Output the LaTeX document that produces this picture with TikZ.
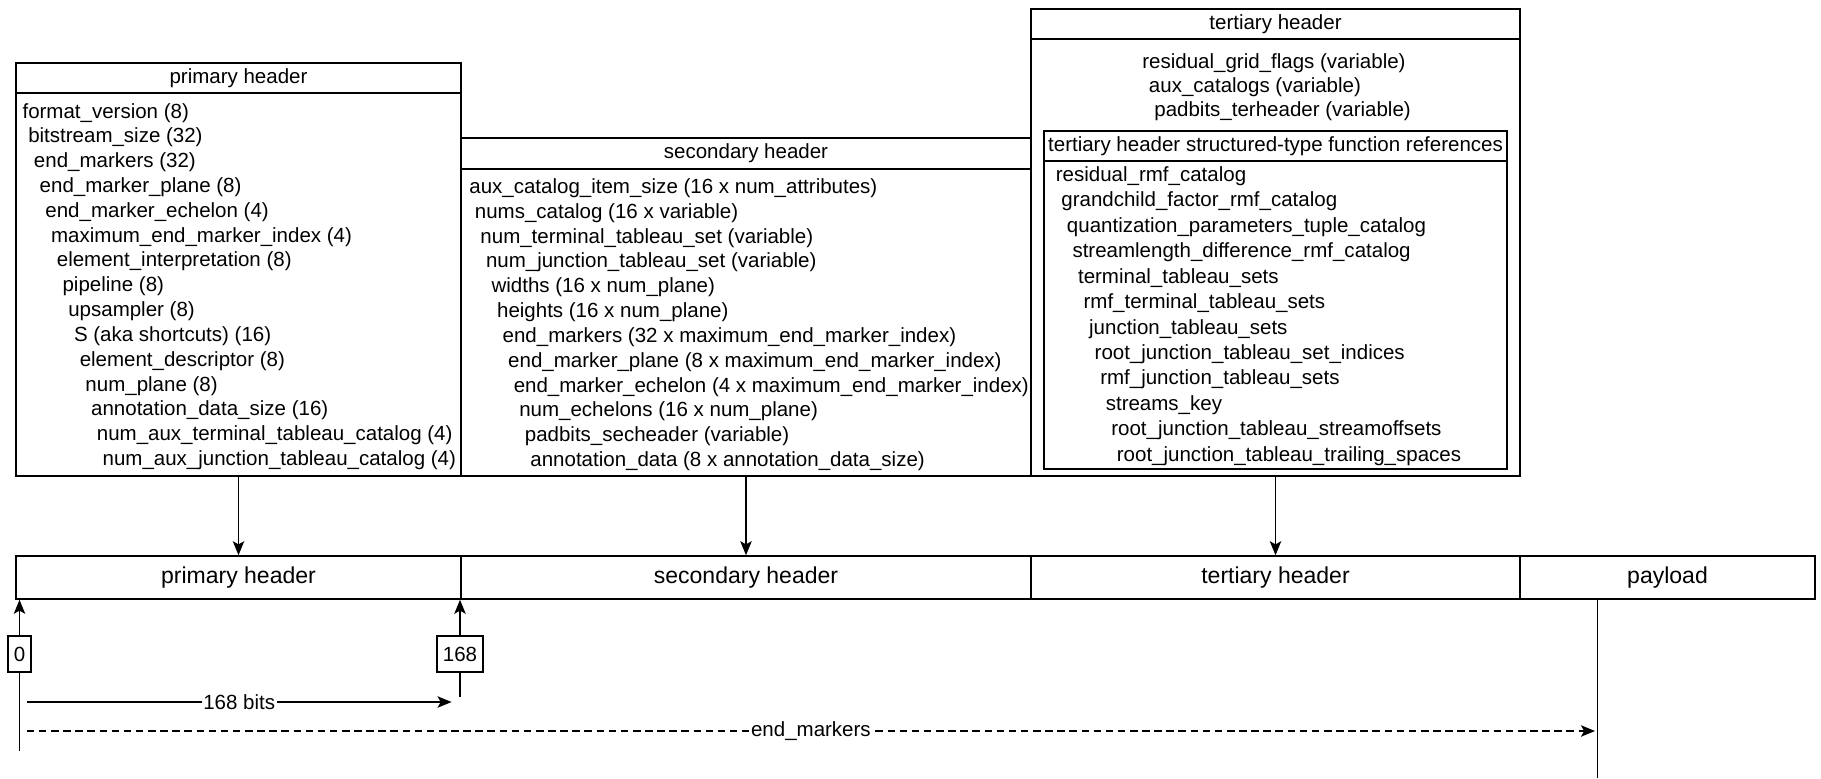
\documentclass[tikz,border=0pt]{standalone}
\usepackage{fontspec}
\setmainfont{Liberation Sans}
\usetikzlibrary{arrows.meta,positioning}

\tikzset{
  box/.style={draw, line width=0.85pt, inner sep=0pt},
  seg/.style={draw, line width=0.85pt, inner sep=0pt, minimum height=0.86cm, font=\fontsize{13.1}{15.7}\selectfont},
  fld/.style={anchor=base west, inner sep=0pt},
  off/.style={draw, fill=white, line width=0.85pt, inner xsep=3.4pt, inner ysep=0pt, minimum height=20.5pt},
  arr/.style={-{Stealth[length=8pt,width=6.5pt,inset=1.8pt]}, line width=0.85pt}
}

\begin{document}
\begin{tikzpicture}[x=0.02cm, y=-0.02cm, every node/.style={font=\fontsize{11.67}{14}\selectfont}]
      \useasboundingbox (0,0) rectangle (1821,778);

      % header boxes
      \node[box, minimum width=8.9cm, minimum height=0.6cm] (ptitle) at (238.5,78) {primary header};
      \node[box, minimum width=8.9cm, minimum height=7.66cm] (pbody) at (238.5,284.5) {};
      \node[box, minimum width=11.4cm, minimum height=0.62cm] (stitle) at (746,153.5) {secondary header};
      \node[box, minimum width=11.4cm, minimum height=6.14cm] (sbody) at (746,322.5) {};
      \node[box, minimum width=9.78cm, minimum height=0.6cm] (ttitle) at (1275.5,24) {tertiary header};
      \node[box, minimum width=9.78cm, minimum height=8.74cm] (tbody) at (1275.5,257.5) {};
      \node[box, minimum width=9.26cm, minimum height=0.6cm] (ftitle) at (1275.5,146) {tertiary header structured-type function references};
      \node[box, minimum width=9.26cm, minimum height=6.16cm] (fbody) at (1275.5,315) {};

      \foreach \t [count=\i from 0] in {{format\_version (8)}, {bitstream\_size (32)}, {end\_markers (32)},
          {end\_marker\_plane (8)}, {end\_marker\_echelon (4)}, {maximum\_end\_marker\_index (4)},
          {element\_interpretation (8)}, {pipeline (8)}, {upsampler (8)}, {S (aka shortcuts) (16)},
          {element\_descriptor (8)}, {num\_plane (8)}, {annotation\_data\_size (16)},
          {num\_aux\_terminal\_tableau\_catalog (4)}, {num\_aux\_junction\_tableau\_catalog (4)}}
        \node[fld] (p\i) at (22.2+5.72*\i, 118+24.83*\i) {\t};

      \foreach \t [count=\i from 0] in {{aux\_catalog\_item\_size (16 x num\_attributes)}, {nums\_catalog (16 x variable)},
          {num\_terminal\_tableau\_set (variable)}, {num\_junction\_tableau\_set (variable)},
          {widths (16 x num\_plane)}, {heights (16 x num\_plane)},
          {end\_markers (32 x maximum\_end\_marker\_index)}, {end\_marker\_plane (8 x maximum\_end\_marker\_index)},
          {end\_marker\_echelon (4 x maximum\_end\_marker\_index)}, {num\_echelons (16 x num\_plane)},
          {padbits\_secheader (variable)}, {annotation\_data (8 x annotation\_data\_size)}}
        \node[fld] (s\i) at (469+5.55*\i, 193.3+24.85*\i) {\t};

      \node[fld] (t0) at (1142,68) {residual\_grid\_flags (variable)};
      \node[fld] (t1) at (1148.6,92.3) {aux\_catalogs (variable)};
      \node[fld] (t2) at (1154,116.6) {padbits\_terheader (variable)};

      \foreach \t [count=\i from 0] in {residual\_rmf\_catalog, grandchild\_factor\_rmf\_catalog,
          quantization\_parameters\_tuple\_catalog, streamlength\_difference\_rmf\_catalog,
          terminal\_tableau\_sets, rmf\_terminal\_tableau\_sets, junction\_tableau\_sets,
          root\_junction\_tableau\_set\_indices, rmf\_junction\_tableau\_sets, streams\_key,
          root\_junction\_tableau\_streamoffsets, root\_junction\_tableau\_trailing\_spaces}
        \node[fld] (f\i) at (1055.5+5.55*\i, 181.3+25.45*\i) {\t};

      % bitstream bar
      \node[seg, minimum width=8.9cm] (pbar) at (238.5,577.5) {primary header};
      \node[seg, minimum width=11.4cm] (sbar) at (746,577.5) {secondary header};
      \node[seg, minimum width=9.78cm] (tbar) at (1275.5,577.5) {tertiary header};
      \node[seg, minimum width=5.9cm] (paybar) at (1667.5,577.5) {payload};

      \draw[arr] (pbody.south) -- (pbar.north);
      \draw[arr] (sbody.south) -- (sbar.north);
      \draw[arr] (tbody.south) -- (tbar.north);

      % offsets
      \node[off] (n0) at (19.5,654) {0};
      \node[off] (n168) at (460,654) {168};
      \coordinate (z0) at (19.5,751);
      \coordinate (z168) at (460,697);
      \draw[line width=0.85pt] (z0) -- (n0.south);
      \draw[arr] (n0.north) -- (n0.north |- pbar.south);
      \draw[line width=0.85pt] (z168) -- (n168.south);
      \draw[arr] (n168.north) -- (n168.north |- pbar.south);

      \coordinate (bl) at (26.8,702);
      \coordinate (br) at (451.6,702);
      \draw[arr] (bl) -- node[fill=white, inner sep=1pt] (bits) {168 bits} (br);

      \coordinate (el) at (26.8,731);
      \coordinate (er) at (1595,731);
      \draw[arr, dash pattern=on 4.3pt off 2.6pt] (el) -- node[fill=white, inner sep=1pt] (emk) {end\_markers} (er);

      \coordinate (pe) at (1597.6,778);
      \draw[line width=0.85pt] (paybar.south -| pe) -- (pe);
    \end{tikzpicture}
\end{document}
